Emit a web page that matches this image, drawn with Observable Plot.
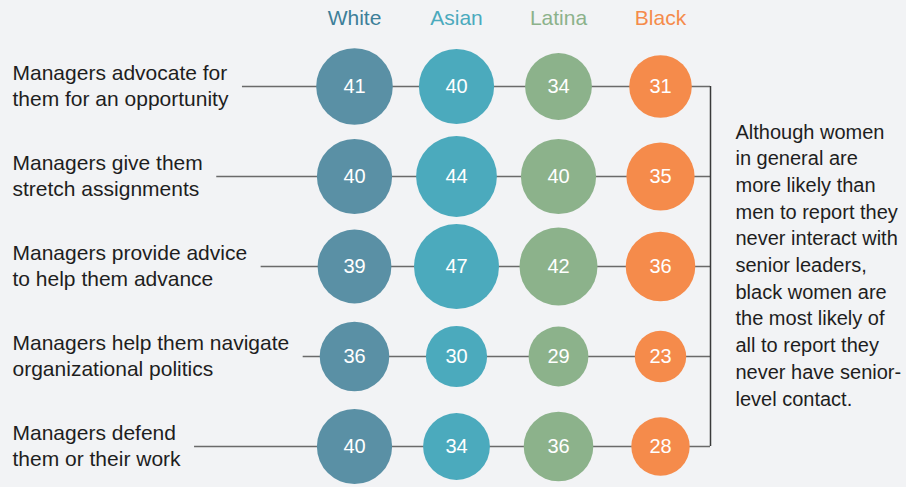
<!DOCTYPE html>
<html>
<head>
<meta charset="utf-8">
<script src="https://cdn.jsdelivr.net/npm/d3@7"></script>
<script src="https://cdn.jsdelivr.net/npm/@observablehq/plot@0.6"></script>
<style>
  html, body { margin: 0; padding: 0; background: #f2f3f5; }
  #chart svg { display: block; }
</style>
</head>
<body>
<div id="chart"></div>
<script>
// ---- data ----
const races = ["White", "Asian", "Latina", "Black"];
const questions = [
  "Managers advocate for\nthem for an opportunity",
  "Managers give them\nstretch assignments",
  "Managers provide advice\nto help them advance",
  "Managers help them navigate\norganizational politics",
  "Managers defend\nthem or their work"
];
const white  = [41, 40, 39, 36, 40];
const asian  = [40, 44, 47, 30, 34];
const latina = [34, 40, 42, 29, 36];
const black  = [31, 35, 36, 23, 28];
const note = "Although women\nin general are\nmore likely than\nmen to report they\nnever interact with\nsenior leaders,\nblack women are\nthe most likely of\nall to report they\nnever have senior-\nlevel contact.";

// ---- styling ----
const fillColors = ["#5a90a5", "#4baabd", "#8cb28b", "#f58b4b"];
const headerColors = ["#3d7f99", "#4baabd", "#8cb28b", "#f58b4b"];
const FONT = "'Liberation Sans', Arial, Helvetica, sans-serif";

const series = [white, asian, latina, black];
const table = [];
questions.forEach((q, i) => races.forEach((r, j) => table.push({question: q, race: r, value: series[j][i]})));

// measure label widths to start connector lines after the text
const ctx = document.createElement("canvas").getContext("2d");
ctx.font = "21px 'Liberation Sans', Arial, sans-serif";
const labelLeft = 12;
const W = 906, H = 487;
const lineEnd = 710; // right bracket position

const connectorMarks = questions.map(q => {
  const w = Math.max(...q.split("\n").map(s => ctx.measureText(s).width));
  return Plot.ruleY([q], {
    y: d => d,
    stroke: "#6a6a6a",
    strokeWidth: 1.5,
    insetLeft: labelLeft + w + 14,
    insetRight: W - lineEnd
  });
});

const chart = Plot.plot({
  width: W,
  height: H,
  margin: 0,
  style: {background: "#f2f3f5", fontFamily: FONT, overflow: "visible"},
  x: {type: "point", domain: races, range: [354, 660], padding: 0, axis: null},
  y: {type: "point", domain: questions, range: [86, 446], padding: 0, axis: null},
  r: {type: "linear", domain: [0, 50], range: [9.6, 44.6]},
  color: {domain: races, range: fillColors},
  marks: [
    ...connectorMarks,
    Plot.ruleX(["Black"], {
      x: d => d,
      y1: () => questions[0],
      y2: () => questions[questions.length - 1],
      dx: 50,
      stroke: "#3a3a3a",
      strokeWidth: 1.5
    }),
    Plot.dot(table, {x: "race", y: "question", r: "value", fill: "race", stroke: "none"}),
    Plot.text(table, {x: "race", y: "question", text: d => String(d.value), fill: "white", fontSize: 20}),
    Plot.text(races, {
      x: d => d, frameAnchor: "top", lineAnchor: "top", dy: 10,
      text: d => d, fontSize: 21, fill: (d, i) => headerColors[i]
    }),
    Plot.text(questions, {
      y: d => d, frameAnchor: "left", textAnchor: "start", dx: labelLeft, dy: -2,
      text: d => d, fontSize: 21, lineHeight: 1.24, fill: "#1e1e1e"
    }),
    Plot.text([note], {
      x: () => "Black", y: () => questions[2], dx: 75, dy: -3,
      textAnchor: "start", text: d => d, fontSize: 20, lineHeight: 1.335, fill: "#1e1e1e"
    })
  ]
});
document.getElementById("chart").append(chart);
</script>
</body>
</html>
